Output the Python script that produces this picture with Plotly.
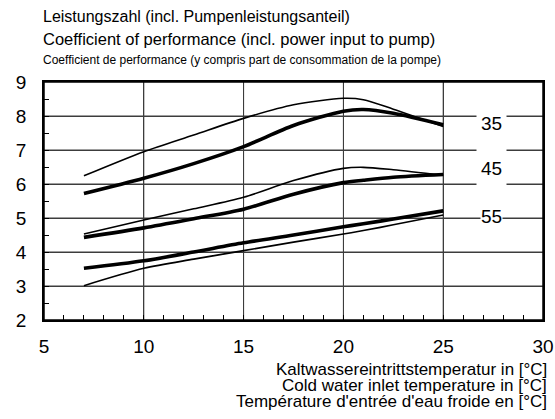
import plotly.graph_objects as go

# Cold water inlet temperature [°C]
x_vals = [7, 10, 12.5, 15, 17.5, 20, 21, 22.5, 25]

# COP curves (thin / thick) for supply temperatures 35, 45, 55
cop35_thin = [6.24, 6.95, 7.44, 7.93, 8.33, 8.52, 8.48, 8.20, 7.69]
cop35_thick = [5.72, 6.17, 6.60, 7.10, 7.72, 8.14, 8.19, 8.08, 7.74]
cop45_thin = [4.53, 4.94, 5.27, 5.61, 6.10, 6.46, 6.49, 6.42, 6.26]
cop45_thick = [4.43, 4.71, 4.98, 5.26, 5.70, 6.04, 6.11, 6.20, 6.28]
cop55_thick = [3.52, 3.74, 4.00, 4.27, 4.50, 4.74, 4.83, 4.97, 5.21]
cop55_thin = [3.01, 3.52, 3.79, 4.04, 4.29, 4.53, 4.63, 4.80, 5.09]

curve_labels = ["35", "45", "55"]
label_x = 27.4
label_y = [7.79, 6.47, 5.03]

x_ticks = [5, 10, 15, 20, 25, 30]
y_ticks = [2, 3, 4, 5, 6, 7, 8, 9]

title_lines = [
    "Leistungszahl (incl. Pumpenleistungsanteil)",
    "Coefficient of performance (incl. power input to pump)",
    "Coefficient de performance (y compris part de consommation de la pompe)",
]
xtitle_lines = [
    "Kaltwassereintrittstemperatur in [°C]",
    "Cold water inlet temperature in [°C]",
    "Température d'entrée d'eau froide en [°C]",
]

FONT = "Liberation Sans, Arial, sans-serif"
GRID = "#3c3c3c"

fig = go.Figure()
series = [
    (cop35_thin, 1.6), (cop35_thick, 3.6),
    (cop45_thin, 1.6), (cop45_thick, 3.6),
    (cop55_thick, 3.6), (cop55_thin, 1.6),
]
for ys, w in series:
    fig.add_trace(go.Scatter(
        x=x_vals, y=ys, mode="lines",
        line=dict(color="black", width=w, shape="spline", smoothing=0.8),
        showlegend=False,
    ))

# grid lines and frame (derived from tick arrays)
for xv in x_ticks[1:-1]:
    fig.add_shape(type="line", xref="x", yref="paper", x0=xv, x1=xv, y0=0, y1=1,
                  line=dict(color=GRID, width=1), layer="below")
for yv in y_ticks[1:-1]:
    fig.add_shape(type="line", xref="paper", yref="y", x0=0, x1=1, y0=yv, y1=yv,
                  line=dict(color=GRID, width=1), layer="below")
fig.add_shape(type="rect", xref="paper", yref="paper", x0=0, x1=1, y0=0, y1=1,
              line=dict(color="black", width=1.5), layer="above")

# white patch breaking the gridlines behind the 35 / 45 labels
fig.add_annotation(x=label_x, y=7.0, xref="x", yref="y", text=" ", showarrow=False,
                   width=29, height=80, bgcolor="white", borderpad=0)

for t, yv in zip(curve_labels, label_y):
    fig.add_annotation(x=label_x, y=yv, xref="x", yref="y", text=t, showarrow=False,
                       font=dict(family=FONT, size=19, color="black"),
                       bgcolor="white", borderpad=0)

title_y = [1.277, 1.181, 1.092]
title_sizes = [16, 16.5, 12]
title_fonts = [FONT, FONT, "Liberation Sans Narrow, Arial Narrow, sans-serif"]
for t, yv, s, f in zip(title_lines, title_y, title_sizes, title_fonts):
    fig.add_annotation(x=-0.006, y=yv, xref="paper", yref="paper", text=t, showarrow=False,
                       xanchor="left", yanchor="middle", font=dict(family=f, size=s, color="black"))

xt_y = [-0.208, -0.277, -0.342]
for t, yv in zip(xtitle_lines, xt_y):
    fig.add_annotation(x=1.012, y=yv, xref="paper", yref="paper", text=t, showarrow=False,
                       xanchor="right", yanchor="middle", font=dict(family=FONT, size=17, color="black"))

axis_common = dict(
    showline=True, linecolor="black", linewidth=1.5, mirror=True,
    showgrid=True, gridcolor=GRID, automargin=False,
    zeroline=False, ticks="inside", ticklen=5, tickcolor="black",
    tickfont=dict(family=FONT, size=19, color="black"),
)

fig.update_xaxes(range=[x_ticks[0], x_ticks[-1]], tickmode="linear",
                 tick0=x_ticks[0], dtick=x_ticks[1] - x_ticks[0], ticklabelstandoff=8,
                 minor=dict(dtick=1, ticks="inside", ticklen=5, tickcolor="black", showgrid=False),
                 **axis_common)
fig.update_yaxes(range=[y_ticks[0], y_ticks[-1]], tickmode="linear",
                 tick0=y_ticks[0], dtick=y_ticks[1] - y_ticks[0], ticklabelstandoff=12,
                 minor=dict(dtick=0.5, ticks="inside", ticklen=5, tickcolor="black", showgrid=False),
                 **axis_common)

fig.update_layout(
    template="none",
    width=555, height=419, autosize=False,
    margin=dict(l=44, r=12, t=82, b=99, autoexpand=False),
    paper_bgcolor="white", plot_bgcolor="white",
)

fig.write_html(
    "out.html",
    config={"displayModeBar": False},
    post_script="document.body.style.margin='0';document.body.style.overflow='hidden';"
                "document.documentElement.style.overflow='hidden';",
)
